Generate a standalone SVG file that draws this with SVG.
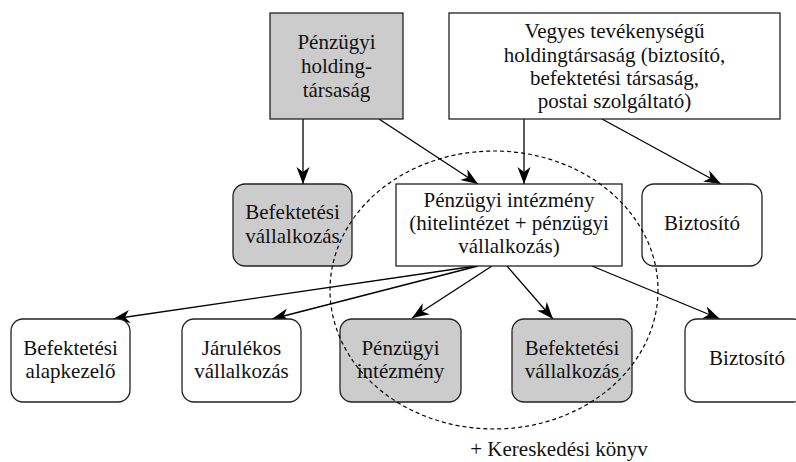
<svg xmlns="http://www.w3.org/2000/svg" width="796" height="462" viewBox="0 0 796 462">
<style>
  .box { stroke: #222; stroke-width: 1.3; fill: #fff; }
  .gray { fill: #cccccc; }
  text { font-family: "Liberation Serif", "Times New Roman", serif; font-size: 21px; fill: #111; text-anchor: middle; }
  .edge { stroke: #000; stroke-width: 1.3; fill: none; marker-end: url(#arr); }
  .ring { stroke: #000; stroke-width: 1.2; fill: none; stroke-dasharray: 4 3; }
</style>
<defs>
  <marker id="arr" markerUnits="userSpaceOnUse" viewBox="-17 -7 18 14" markerWidth="18" markerHeight="14" refX="0" refY="0" orient="auto">
    <path d="M0,0 L-17,-6.5 L-12,0 L-17,6.5 Z" fill="#000"/>
  </marker>
</defs>
<rect width="796" height="462" fill="#fff"/>

<g id="connectors">
  <line class="edge" x1="303" y1="119" x2="303" y2="184"/>
  <line class="edge" x1="379" y1="119" x2="478" y2="184"/>
  <line class="edge" x1="524" y1="119" x2="524" y2="184"/>
  <line class="edge" x1="602" y1="119" x2="721" y2="184"/>
  <line class="edge" x1="476" y1="266" x2="113" y2="319"/>
  <line class="edge" x1="478" y1="266" x2="272" y2="319"/>
  <line class="edge" x1="492" y1="266" x2="412" y2="318"/>
  <line class="edge" x1="507" y1="266" x2="553" y2="319"/>
  <line class="edge" x1="592" y1="266" x2="720" y2="319"/>
</g>

<g id="penzugyi-holding">
  <rect class="box gray" x="270" y="13" width="133" height="106"/>
  <text x="336.5" y="49">Pénzügyi</text>
  <text x="336.5" y="73">holding-</text>
  <text x="336.5" y="97">társaság</text>
</g>

<g id="vegyes-holding">
  <rect class="box" x="449" y="13" width="331" height="106"/>
  <text x="614.5" y="38">Vegyes tevékenységű</text>
  <text x="614.5" y="61.5">holdingtársaság (biztosító,</text>
  <text x="614.5" y="85">befektetési társaság,</text>
  <text x="614.5" y="108">postai szolgáltató)</text>
</g>

<g id="befektetesi-vallalkozas-1">
  <rect class="box gray" x="233" y="184" width="119" height="82" rx="12"/>
  <text x="292.5" y="219">Befektetési</text>
  <text x="292.5" y="243">vállalkozás</text>
</g>

<g id="penzugyi-intezmeny-1">
  <rect class="box" x="396" y="184" width="226" height="82"/>
  <text x="509" y="207">Pénzügyi intézmény</text>
  <text x="509" y="230">(hitelintézet + pénzügyi</text>
  <text x="509" y="253">vállalkozás)</text>
</g>

<g id="biztosito-1">
  <rect class="box" x="642" y="184" width="120" height="82" rx="12"/>
  <text x="702" y="230">Biztosító</text>
</g>

<g id="befektetesi-alapkezelo">
  <rect class="box" x="11" y="319" width="119" height="83" rx="12"/>
  <text x="70.5" y="355">Befektetési</text>
  <text x="70.5" y="378">alapkezelő</text>
</g>

<g id="jarulekos-vallalkozas">
  <rect class="box" x="182" y="319" width="119" height="83" rx="12"/>
  <text x="241.5" y="355">Járulékos</text>
  <text x="241.5" y="378">vállalkozás</text>
</g>

<g id="penzugyi-intezmeny-2">
  <rect class="box gray" x="340" y="319" width="121" height="83" rx="12"/>
  <text x="400.5" y="355">Pénzügyi</text>
  <text x="400.5" y="378">intézmény</text>
</g>

<g id="befektetesi-vallalkozas-2">
  <rect class="box gray" x="512" y="319" width="120" height="83" rx="12"/>
  <text x="572" y="355">Befektetési</text>
  <text x="572" y="378">vállalkozás</text>
</g>

<g id="biztosito-2">
  <rect class="box" x="685" y="319" width="120" height="83" rx="12"/>
  <text x="747" y="365">Biztosító</text>
</g>

<g id="kereskedesi-konyv">
  <ellipse class="ring" cx="494" cy="290" rx="164" ry="139"/>
  <text x="559" y="456">+ Kereskedési könyv</text>
</g>
</svg>
